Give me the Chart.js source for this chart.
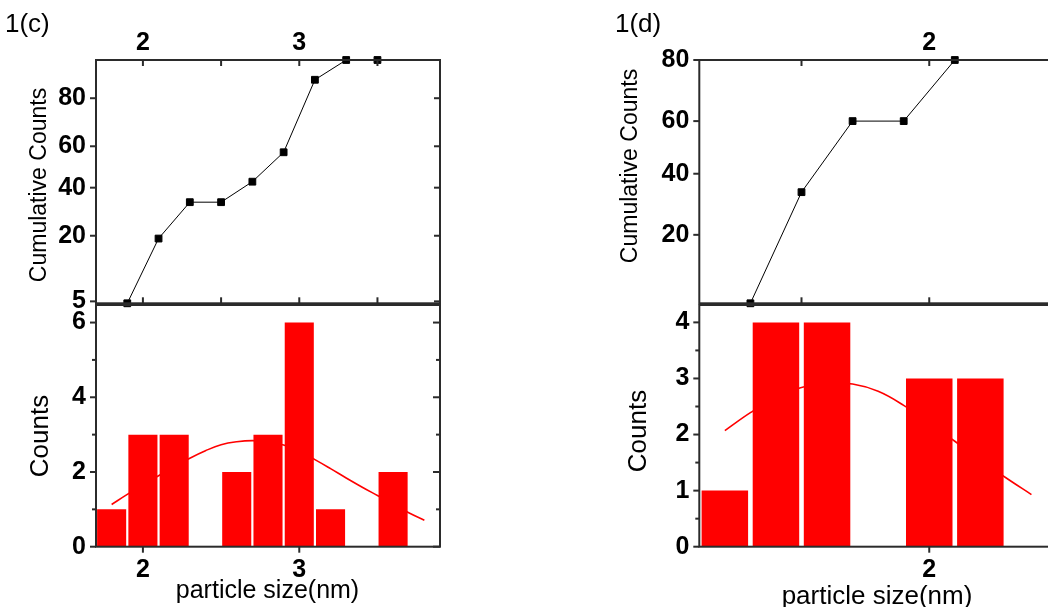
<!DOCTYPE html>
<html>
<head>
<meta charset="utf-8">
<script src="https://cdn.jsdelivr.net/npm/chart.js@4.4.1/dist/chart.umd.min.js"></script>
<style>
  html, body { margin: 0; padding: 0; background: #fff; }
  body { width: 1048px; height: 607px; overflow: hidden; position: relative;
         font-family: "Liberation Sans", Arial, sans-serif; color: #000; }
  canvas { position: absolute; }
  .lbl { position: absolute; white-space: nowrap; line-height: 1; }
  .rot { transform: translate(-50%, -50%) rotate(-90deg); }
  .ctr { transform: translate(-50%, -50%); }
</style>
</head>
<body>
<canvas id="cumC"  width="520" height="330" style="left:0px;top:0px"></canvas>
<canvas id="histC" width="520" height="327" style="left:0px;top:280px"></canvas>
<canvas id="cumD"  width="480" height="330" style="left:600px;top:0px"></canvas>
<canvas id="histD" width="480" height="327" style="left:600px;top:280px"></canvas>

<div class="lbl" style="left:5px;top:10px;font-size:26px">1(c)</div>
<div class="lbl" style="left:615px;top:10px;font-size:26px">1(d)</div>
<div class="lbl rot" style="left:37.5px;top:185px;font-size:23px">Cumulative Counts</div>
<div class="lbl rot" style="left:629px;top:165.5px;font-size:23px">Cumulative Counts</div>
<div class="lbl rot" style="left:39px;top:436px;font-size:26px">Counts</div>
<div class="lbl rot" style="left:636.5px;top:431px;font-size:26px">Counts</div>
<div class="lbl ctr" style="left:267.5px;top:589.3px;font-size:25px">particle size(nm)</div>
<div class="lbl ctr" style="left:877px;top:594.6px;font-size:26px">particle size(nm)</div>

<script>
// ---------- panel 1(c) ----------
const sizeRangeC   = [1.7, 3.9];
const binCentersC  = [1.8, 2.0, 2.2, 2.4, 2.6, 2.8, 3.0, 3.2, 3.4, 3.6];
const countsC      = [1, 3, 3, 0, 2, 3, 6, 1, 0, 2];
const binEdgesC    = [1.9, 2.1, 2.3, 2.5, 2.7, 2.9, 3.1, 3.3, 3.5];
const cumulativeC  = [4.76, 19.05, 33.33, 33.33, 42.86, 57.14, 85.71, 90.48, 90.48];
const fitSizesC    = [1.8, 1.9, 2.0, 2.1, 2.2, 2.3, 2.4, 2.5, 2.6, 2.7, 2.8, 2.9, 3.0, 3.1, 3.2, 3.3, 3.4, 3.5, 3.6, 3.7, 3.8];
const fitCountsC   = [1.13, 1.40, 1.65, 1.90, 2.14, 2.37, 2.57, 2.73, 2.81, 2.84, 2.81, 2.72, 2.55, 2.33, 2.09, 1.84, 1.60, 1.37, 1.14, 0.91, 0.71];
const cumRangeC    = [4.76, 90.48];
const countRangeC  = [0, 6.47];
const sizeLabelsC  = [2, 3];
const sizeMinorC   = [2.5, 3.5];
const cumLabelsC   = [5, 20, 40, 60, 80];
const countLabelsC = [0, 2, 4, 6];
const countMinorC  = [1, 3, 5];

// ---------- panel 1(d) ----------
const sizeRangeD   = [1.1, 2.5];
const binCentersD  = [1.2, 1.4, 1.6, 1.8, 2.0, 2.2];
const countsD      = [1, 4, 4, 0, 3, 3];
const binEdgesD    = [1.3, 1.5, 1.7, 1.9, 2.1];
const cumulativeD  = [6.67, 33.33, 60, 60, 80];
const fitSizesD    = [1.2, 1.3, 1.4, 1.5, 1.6, 1.7, 1.8, 1.9, 2.0, 2.1, 2.2, 2.3, 2.4];
const fitCountsD   = [2.07, 2.39, 2.66, 2.84, 2.91, 2.90, 2.77, 2.52, 2.21, 1.88, 1.55, 1.23, 0.93];
const cumRangeD    = [6.67, 80];
const countRangeD  = [0, 4.31];
const sizeLabelsD  = [2];
const sizeMinorD   = [1.5, 2.5];
const cumLabelsD   = [20, 40, 60, 80];
const countLabelsD = [0, 1, 2, 3, 4];
const countMinorD  = [0.5, 1.5, 2.5, 3.5];

// inverse standard normal CDF (Acklam's rational approximation)
function probit(p) {
  const a = [-3.969683028665376e+01, 2.209460984245205e+02, -2.759285104469687e+02, 1.383577518672690e+02, -3.066479806614716e+01, 2.506628277459239e+00];
  const b = [-5.447609879822406e+01, 1.615858368580409e+02, -1.556989798598866e+02, 6.680131188771972e+01, -1.328068155288572e+01];
  const c = [-7.784894002430293e-03, -3.223964580411365e-01, -2.400758277161838e+00, -2.549732539343734e+00, 4.374664141464968e+00, 2.938163982698783e+00];
  const d = [7.784695709041462e-03, 3.224671290700398e-01, 2.445134137142996e+00, 3.754408661907416e+00];
  const lo = 0.02425, hi = 1 - lo;
  let q, r;
  if (p < lo) {
    q = Math.sqrt(-2 * Math.log(p));
    return (((((c[0]*q+c[1])*q+c[2])*q+c[3])*q+c[4])*q+c[5]) / ((((d[0]*q+d[1])*q+d[2])*q+d[3])*q+1);
  }
  if (p <= hi) {
    q = p - 0.5; r = q * q;
    return (((((a[0]*r+a[1])*r+a[2])*r+a[3])*r+a[4])*r+a[5])*q / (((((b[0]*r+b[1])*r+b[2])*r+b[3])*r+b[4])*r+1);
  }
  q = Math.sqrt(-2 * Math.log(1 - p));
  return -(((((c[0]*q+c[1])*q+c[2])*q+c[3])*q+c[4])*q+c[5]) / ((((d[0]*q+d[1])*q+d[2])*q+d[3])*q+1);
}
// standard normal CDF (Abramowitz & Stegun 7.1.26)
function normCdf(z) {
  const t = 1 / (1 + 0.3275911 * Math.abs(z) / Math.SQRT2);
  const y = 1 - (((((1.061405429*t - 1.453152027)*t) + 1.421413741)*t - 0.284496736)*t + 0.254829592)*t * Math.exp(-z*z/2);
  return z >= 0 ? 0.5 * (1 + y) : 0.5 * (1 - y);
}

// percent axis spaced on a normal-probability scale
class ProbabilityScale extends Chart.Scale {
  static id = 'probability';
  static defaults = {};
  parse(raw) { return raw == null ? null : +raw; }
  determineDataLimits() {
    const { min, max } = this.getMinMax(true);
    this.min = min; this.max = max;
  }
  buildTicks() { return []; }
  configure() {
    super.configure();
    this._z0 = probit(this.min / 100);
    this._zSpan = probit(this.max / 100) - this._z0;
  }
  getPixelForValue(v) {
    return this.getPixelForDecimal((probit(v / 100) - this._z0) / this._zSpan);
  }
  getValueForPixel(px) {
    return 100 * normCdf(this._z0 + this.getDecimalForPixel(px) * this._zSpan);
  }
  getLabelForValue(v) { return String(v); }
}
Chart.register(ProbabilityScale);

// box frame plus inner/outer tick marks placed through the chart's scales
const framePlugin = {
  id: 'frame',
  afterDatasetsDraw(chart, _args, opts) {
    const { ctx, chartArea: a, scales } = chart;
    ctx.save();
    ctx.strokeStyle = '#2b2b2b';
    ctx.lineWidth = 2;
    ctx.strokeRect(a.left, a.top, a.right - a.left, a.bottom - a.top);
    for (const m of opts.marks) {
      const scale = scales[m.axis];
      const dir = m.inward ? 1 : -1;
      for (const v of m.values) {
        const p = scale.getPixelForValue(v);
        ctx.beginPath();
        if (m.side === 'top')        { ctx.moveTo(p, a.top);    ctx.lineTo(p, a.top + dir * m.len); }
        else if (m.side === 'bottom'){ ctx.moveTo(p, a.bottom); ctx.lineTo(p, a.bottom - dir * m.len); }
        else if (m.side === 'left')  { ctx.moveTo(a.left, p);   ctx.lineTo(a.left + dir * m.len, p); }
        else                         { ctx.moveTo(a.right, p);  ctx.lineTo(a.right - dir * m.len, p); }
        ctx.stroke();
      }
    }
    ctx.restore();
  }
};

Chart.defaults.font.family = '"Liberation Sans", Arial, sans-serif';
Chart.defaults.color = '#000';
const tickFont = { size: 25, weight: 'bold' };
const RED = '#ff0000';

function axis(extra) {
  return Object.assign({
    grid: { display: false, drawTicks: false },
    border: { display: false },
  }, extra);
}
function fixedTicks(values) {
  return (s) => { s.ticks = values.map(v => ({ value: v })); };
}
function fixedSize(px) {
  return (s) => { if (s.isHorizontal()) s.height = px; else s.width = px; };
}
const baseOptions = {
  responsive: false, devicePixelRatio: 1, animation: false,
  events: [],
};

function cumulativeChart(id, cfg) {
  return new Chart(document.getElementById(id), {
    type: 'line',
    data: {
      datasets: [{
        data: cfg.sizes.map((x, i) => ({ x, y: cfg.values[i] })),
        borderColor: '#000', borderWidth: 1, tension: 0,
        pointStyle: 'rect', pointRadius: 4.8, pointBorderWidth: 1,
        pointBackgroundColor: '#000', pointBorderColor: '#000',
        clip: false,
      }],
    },
    options: Object.assign({}, baseOptions, {
      layout: { padding: cfg.padding },
      plugins: { legend: { display: false }, tooltip: { enabled: false }, frame: { marks: cfg.marks } },
      scales: {
        x: axis({
          type: 'linear', position: 'top', min: cfg.xRange[0], max: cfg.xRange[1],
          ticks: { font: tickFont, padding: 1.5, autoSkip: false, maxRotation: 0, callback: v => String(v) },
          afterBuildTicks: fixedTicks(cfg.xLabels),
          afterFit: fixedSize(60),
        }),
        y: axis({
          type: 'probability', position: 'left', min: cfg.yRange[0], max: cfg.yRange[1],
          ticks: { font: tickFont, padding: 10, autoSkip: false, callback: v => String(v) },
          afterBuildTicks: fixedTicks(cfg.yLabels),
          afterFit: fixedSize(cfg.yWidth),
        }),
      },
    }),
    plugins: [framePlugin],
  });
}

function histogramChart(id, cfg) {
  return new Chart(document.getElementById(id), {
    type: 'bar',
    data: {
      datasets: [
        {
          type: 'line', order: 1,
          data: cfg.fitX.map((x, i) => ({ x, y: cfg.fitY[i] })),
          borderColor: RED, borderWidth: 1.6, pointRadius: 0, tension: 0.4,
        },
        {
          type: 'bar', order: 2,
          data: cfg.centers.map((x, i) => ({ x, y: cfg.counts[i] })),
          backgroundColor: RED, borderWidth: 0,
          barPercentage: cfg.barPct, categoryPercentage: 1,
        },
      ],
    },
    options: Object.assign({}, baseOptions, {
      layout: { padding: cfg.padding },
      plugins: { legend: { display: false }, tooltip: { enabled: false }, frame: { marks: cfg.marks } },
      scales: {
        x: axis({
          type: 'linear', position: 'bottom', offset: false, min: cfg.xRange[0], max: cfg.xRange[1],
          ticks: { font: tickFont, padding: 8.4, autoSkip: false, maxRotation: 0, callback: v => String(v) },
          afterBuildTicks: fixedTicks(cfg.xLabels),
          afterFit: fixedSize(60.3),
        }),
        y: axis({
          type: 'linear', position: 'left', min: cfg.yRange[0], max: cfg.yRange[1],
          ticks: { font: tickFont, padding: 10, autoSkip: false, callback: v => String(v) },
          afterBuildTicks: fixedTicks(cfg.yLabels),
          afterFit: fixedSize(cfg.yWidth),
        }),
      },
    }),
    plugins: [framePlugin],
  });
}

// 1(c)
cumulativeChart('cumC', {
  sizes: binEdgesC, values: cumulativeC, xRange: sizeRangeC, yRange: cumRangeC,
  xLabels: sizeLabelsC, yLabels: cumLabelsC, yWidth: 96,
  padding: { left: 0, right: 80, top: 0, bottom: 26.7 },
  marks: [
    { axis: 'x', side: 'top',    values: sizeLabelsC.concat(sizeMinorC), len: 6, inward: true },
    { axis: 'x', side: 'bottom', values: sizeLabelsC.concat(sizeMinorC), len: 6, inward: true },
    { axis: 'y', side: 'left',   values: cumLabelsC, len: 6, inward: false },
    { axis: 'y', side: 'right',  values: cumLabelsC, len: 6, inward: true },
  ],
});
histogramChart('histC', {
  centers: binCentersC, counts: countsC, fitX: fitSizesC, fitY: fitCountsC,
  xRange: sizeRangeC, yRange: countRangeC, xLabels: sizeLabelsC, yLabels: countLabelsC,
  yWidth: 96, barPct: 0.93,
  padding: { left: 0, right: 80, top: 23.3, bottom: 0 },
  marks: [
    { axis: 'x', side: 'bottom', values: sizeLabelsC, len: 6, inward: false },
    { axis: 'y', side: 'left',   values: countLabelsC, len: 6, inward: false },
    { axis: 'y', side: 'left',   values: countMinorC, len: 4, inward: false },
    { axis: 'y', side: 'right',  values: countLabelsC, len: 7, inward: true },
    { axis: 'y', side: 'right',  values: countMinorC, len: 4, inward: true },
  ],
});

// 1(d)
cumulativeChart('cumD', {
  sizes: binEdgesD, values: cumulativeD, xRange: sizeRangeD, yRange: cumRangeD,
  xLabels: sizeLabelsD, yLabels: cumLabelsD, yWidth: 99.3,
  padding: { left: 0, right: 23, top: 0, bottom: 26.7 },
  marks: [
    { axis: 'x', side: 'top',    values: sizeLabelsD.concat(sizeMinorD), len: 6, inward: true },
    { axis: 'x', side: 'bottom', values: sizeLabelsD.concat(sizeMinorD), len: 6, inward: true },
    { axis: 'y', side: 'left',   values: cumLabelsD, len: 6, inward: false },
    { axis: 'y', side: 'right',  values: cumLabelsD, len: 6, inward: true },
  ],
});
histogramChart('histD', {
  centers: binCentersD, counts: countsD, fitX: fitSizesD, fitY: fitCountsD,
  xRange: sizeRangeD, yRange: countRangeD, xLabels: sizeLabelsD, yLabels: countLabelsD,
  yWidth: 99.3, barPct: 0.91,
  padding: { left: 0, right: 23, top: 23.3, bottom: 0 },
  marks: [
    { axis: 'x', side: 'bottom', values: sizeLabelsD, len: 6, inward: false },
    { axis: 'y', side: 'left',   values: countLabelsD, len: 6, inward: false },
    { axis: 'y', side: 'left',   values: countMinorD, len: 4, inward: false },
    { axis: 'y', side: 'right',  values: countLabelsD, len: 7, inward: true },
    { axis: 'y', side: 'right',  values: countMinorD, len: 4, inward: true },
  ],
});
</script>
</body>
</html>
